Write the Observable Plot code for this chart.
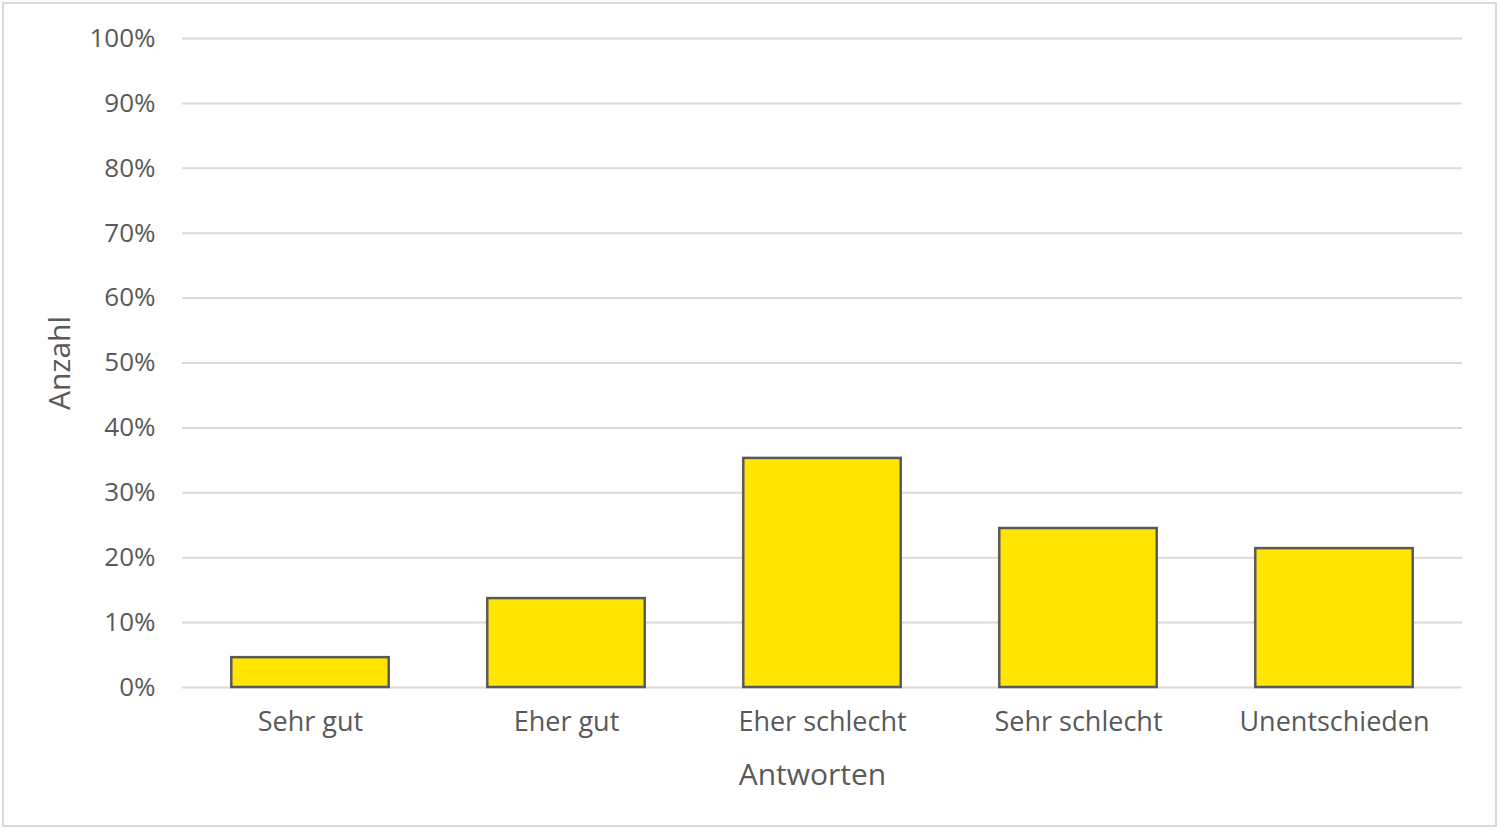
<!DOCTYPE html>
<html>
<head>
<meta charset="utf-8">
<script src="https://cdn.jsdelivr.net/npm/d3@7"></script>
<script src="https://cdn.jsdelivr.net/npm/@observablehq/plot@0.6"></script>
<style>
  html, body { margin: 0; padding: 0; background: #fff; }
  #wrap { position: relative; width: 1500px; height: 830px; overflow: hidden; }
  #frame { position: absolute; left: 2px; top: 2px; width: 1491px; height: 821px; border: 2px solid #d9d9d9; pointer-events: none; }
  svg { display: block; }
</style>
</head>
<body>
<div id="wrap"><div id="chart"></div><div id="frame"></div></div>
<script>
const categories = ["Sehr gut", "Eher gut", "Eher schlecht", "Sehr schlecht", "Unentschieden"];
const values = [0.046, 0.137, 0.353, 0.245, 0.214];
const yTicks = [0, 0.1, 0.2, 0.3, 0.4, 0.5, 0.6, 0.7, 0.8, 0.9, 1.0];
const xLabel = "Antworten";
const yLabel = "Anzahl";

const data = categories.map((c, i) => ({category: c, value: values[i]}));

const chart = Plot.plot({
  width: 1500,
  height: 830,
  marginLeft: 182,
  marginRight: 38,
  marginTop: 38,
  marginBottom: 143,
  style: {fontFamily: "'Open Sans', sans-serif", fontSize: "24px", color: "#595959", background: "transparent"},
  x: {domain: categories, paddingInner: 0.385, paddingOuter: 0.1925, round: false, label: null},
  y: {domain: [0, 1], label: null},
  marks: [
    Plot.gridY(yTicks, {stroke: "#d9d9d9", strokeOpacity: 1, strokeWidth: 2}),
    Plot.barY(data, {x: "category", y: "value", fill: "#FFE500", stroke: "#595959", strokeWidth: 2.5}),
    Plot.axisY({ticks: yTicks, tickFormat: d3.format(".0%"), tickSize: 0, tickPadding: 27, fontSize: 26, fontWeight: 500, fill: "#595959", label: null}),
    Plot.axisX({tickSize: 0, tickPadding: 24, fontSize: 27, fontWeight: 500, fill: "#595959", label: null}),
    Plot.text([xLabel], {frameAnchor: "bottom", dy: 97, dx: -10, fontSize: 30, fontWeight: 500, fill: "#595959", text: d => d}),
    Plot.text([yLabel], {frameAnchor: "left", textAnchor: "middle", dx: -122, rotate: -90, fontSize: 30, fontWeight: 500, fill: "#595959", text: d => d})
  ]
});
document.getElementById("chart").appendChild(chart);
</script>
</body>
</html>
